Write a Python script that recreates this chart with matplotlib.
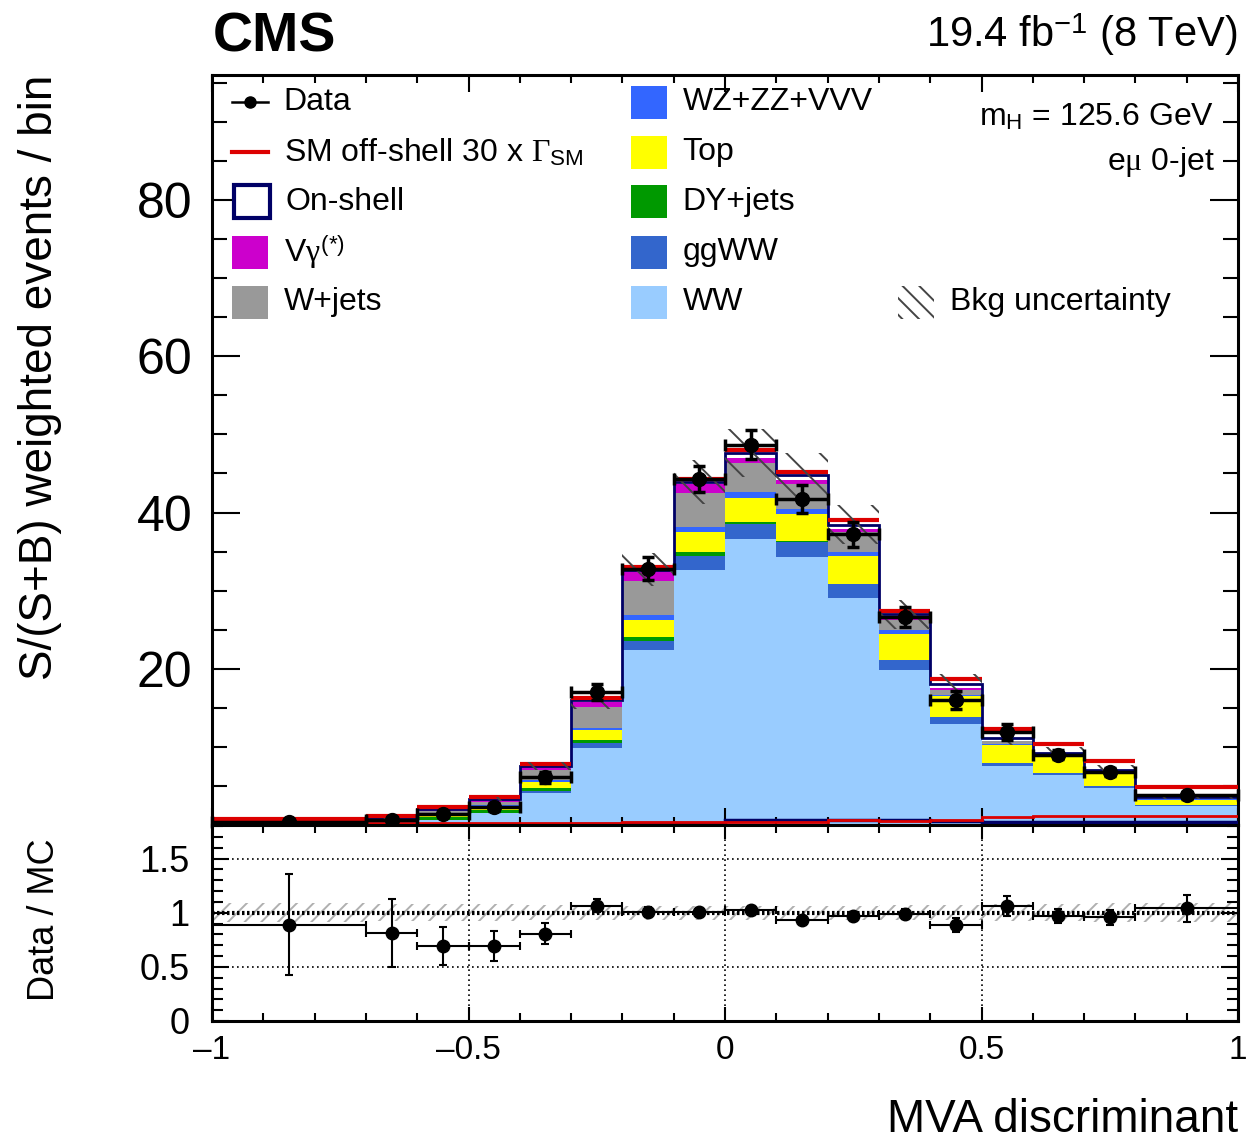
import numpy as np
import matplotlib
matplotlib.use("Agg")
from matplotlib import pyplot as plt
from matplotlib.patches import Rectangle
from matplotlib.ticker import MultipleLocator, FuncFormatter

# === fonts: Helvetica-like text, Symbol-like greek ===
plt.rcParams["font.family"] = ["Liberation Sans", "DejaVu Sans"]
plt.rcParams["mathtext.fontset"] = "custom"
plt.rcParams["mathtext.rm"] = "Liberation Serif"
plt.rcParams["mathtext.it"] = "Liberation Serif"
plt.rcParams["mathtext.sf"] = "Liberation Sans"
plt.rcParams["hatch.linewidth"] = 1.4

# === binning of the MVA discriminant ===
edges = np.array([-1.0, -0.7, -0.6, -0.5, -0.4, -0.3, -0.2, -0.1, 0.0,
                  0.1, 0.2, 0.3, 0.4, 0.5, 0.6, 0.7, 0.8, 1.0])

# === S/(S+B) weighted yields per bin ===
ww = [0.25, 0.30, 0.60, 1.50, 4.10, 9.9, 22.4, 32.7, 36.6, 34.3, 29.0, 19.8, 12.9, 7.5, 6.4, 4.7, 2.4]
ggww = [0.02, 0.03, 0.05, 0.10, 0.20, 0.6, 1.2, 1.7, 1.9, 1.9, 1.8, 1.3, 0.9, 0.45, 0.3, 0.3, 0.15]
dy = [0.05, 0.10, 0.35, 0.35, 0.40, 0.4, 0.5, 0.5, 0.3, 0.2, 0.1, 0.05, 0.05, 0.03, 0.02, 0.02, 0.0]
top = [0.03, 0.05, 0.30, 0.50, 0.80, 1.2, 2.2, 2.6, 3.0, 3.4, 3.5, 3.35, 2.65, 2.25, 1.95, 1.65, 0.7]
wz = [0.01, 0.02, 0.05, 0.05, 0.20, 0.3, 0.6, 0.7, 0.8, 0.7, 0.5, 0.4, 0.2, 0.12, 0.05, 0.03, 0.02]
wjets = [0.05, 0.15, 0.40, 0.50, 1.30, 2.7, 4.3, 4.3, 3.7, 3.1, 2.6, 1.3, 0.6, 0.35, 0.05, 0.0, 0.03]
vgamma = [0.04, 0.20, 0.25, 0.30, 0.50, 0.7, 1.3, 1.1, 0.7, 0.55, 0.35, 0.15, 0.2, 0.1, 0.03, 0.0, 0.0]
onshell = [0.0, 0.01, 0.02, 0.03, 0.05, 0.15, 0.2, 0.3, 0.6, 0.6, 0.6, 0.6, 0.55, 0.4, 0.45, 0.4, 0.35]
offshell = [0.3, 0.3, 0.3, 0.3, 0.3, 0.3, 0.35, 0.35, 0.4, 0.4, 0.6, 0.5, 0.6, 1.05, 1.1, 1.15, 1.2]
bkg_rel_unc = [0.09, 0.08, 0.08, 0.08, 0.07, 0.07, 0.065, 0.065, 0.065, 0.065, 0.065, 0.07, 0.07, 0.08, 0.08, 0.09, 0.09]

data = [0.40, 0.70, 1.40, 2.30, 6.10, 17.0, 32.8, 44.3, 48.7, 41.7, 37.2, 26.6, 16.0, 11.9, 9.0, 6.8, 3.8]
data_err = [0.21, 0.27, 0.36, 0.46, 0.75, 1.0, 1.5, 1.7, 1.8, 1.8, 1.6, 1.3, 1.1, 1.0, 0.6, 0.5, 0.45]

# stacking order, bottom to top
stack = [
    ("WW", ww, "#99ccff"),
    ("ggWW", ggww, "#3366cc"),
    ("DY+jets", dy, "#009900"),
    ("Top", top, "#ffff00"),
    ("WZ+ZZ+VVV", wz, "#3366ff"),
    ("W+jets", wjets, "#999999"),
    (r"V$\gamma^{\mathsf{(*)}}$", vgamma, "#cc00cc"),
]
NAVY = "#000066"
RED = "#dd0000"

centers = 0.5 * (edges[1:] + edges[:-1])
halfw = 0.5 * np.diff(edges)
data = np.array(data)
data_err = np.array(data_err)

fig = plt.figure(figsize=(12.48, 11.4), dpi=100)
ax = fig.add_axes([0.1699, 0.2763, 0.8221, 0.6579])
rax = fig.add_axes([0.1699, 0.1044, 0.8221, 0.1719], sharex=ax)

# === stacked backgrounds ===
base = np.zeros(len(centers))
for name, vals, color in stack:
    vals = np.array(vals)
    ax.stairs(base + vals, edges, baseline=base, fill=True, color=color, lw=0, zorder=1)
    base = base + vals
bkg = base.copy()
mc = bkg + np.array(onshell)
total = mc + np.array(offshell)

# on-shell (hollow) and 30 x Gamma off-shell on top of the stack
ax.stairs(mc, edges, baseline=bkg, fill=True, color="white", lw=0, zorder=1)
ax.stairs(mc, edges, baseline=None, color=NAVY, lw=2.0, zorder=2)
ax.hlines(total, edges[:-1], edges[1:], color=RED, lw=3.0, zorder=3)

# signals alone
ax.stairs(onshell, edges, baseline=None, color=NAVY, lw=2.5, zorder=4)
ax.stairs(offshell, edges, baseline=None, color=RED, lw=2.0, zorder=4)

# background uncertainty
unc = mc * np.array(bkg_rel_unc)
ax.bar(edges[:-1], 2 * unc, width=np.diff(edges), bottom=mc - unc, align="edge",
       fill=False, hatch="\\", edgecolor="#444444", lw=0, zorder=5)

# data
ax.errorbar(centers, data, xerr=halfw, yerr=data_err, fmt="o", color="black",
            ms=10, elinewidth=2.5, capsize=4, capthick=2.5, zorder=6, clip_on=False)

# === ratio ===
ratio = data / mc
ratio_err = data_err / mc
rel = np.array(bkg_rel_unc)
rax.bar(edges[:-1], 2 * rel, width=np.diff(edges), bottom=1 - rel, align="edge",
        fill=False, hatch="//", edgecolor="#b0b0b0", lw=0, zorder=1)
rax.axhline(1.0, color="black", lw=3, ls=(0, (0.6, 0.6)), zorder=2)
for yv in (0.5, 1.5):
    rax.axhline(yv, color="black", lw=1.2, ls=(0, (1, 2)), zorder=2)
for xv in (-0.5, 0.0, 0.5):
    rax.axvline(xv, color="black", lw=1.2, ls=(0, (1, 2)), zorder=2)
rax.errorbar(centers, ratio, xerr=halfw, yerr=ratio_err, fmt="o", color="black",
             ms=9, elinewidth=1.5, capsize=3, capthick=1.5, zorder=3)

# === axes cosmetics ===
ax.set_xlim(-1, 1)
ax.set_ylim(0, 96)
rax.set_ylim(0, 1.81)
ax.set_yticks([20, 40, 60, 80])
ax.yaxis.set_minor_locator(MultipleLocator(5))
ax.xaxis.set_major_locator(MultipleLocator(0.5))
ax.xaxis.set_minor_locator(MultipleLocator(0.1))
rax.set_yticks([0, 0.5, 1, 1.5])
rax.yaxis.set_minor_locator(MultipleLocator(0.1))
rax.yaxis.set_major_formatter(FuncFormatter(lambda v, p: f"{v:g}"))
rax.xaxis.set_major_formatter(FuncFormatter(lambda v, p: f"{v:g}".replace("-", "\u2013")))

for a in (ax, rax):
    for s in a.spines.values():
        s.set_linewidth(2.2)
    a.tick_params(which="both", direction="in", top=True, right=True, width=1.5)

ax.tick_params(axis="x", which="major", length=12, labelbottom=False)
ax.tick_params(axis="x", which="minor", length=6)
ax.tick_params(axis="y", which="major", length=20, labelsize=36, pad=14)
ax.tick_params(axis="y", which="minor", length=11)
rax.tick_params(axis="x", which="major", length=10, labelsize=24, pad=10)
rax.tick_params(axis="x", which="minor", length=6)
rax.tick_params(axis="y", which="major", length=12, labelsize=26, pad=16)
rax.tick_params(axis="y", which="minor", length=8)

fig.text(0.032, 1 - 75 / 1140, "S/(S+B) weighted events / bin", rotation=90,
         ha="center", va="top", fontsize=33)
fig.text(0.036, 1 - 920 / 1140, "Data / MC", rotation=90, ha="center", va="center", fontsize=26)
fig.text(0.992, 1 - 1132 / 1140, "MVA discriminant", ha="right", va="baseline", fontsize=33)
fig.text(0.1707, 1 - 52 / 1140, "CMS", ha="left", va="baseline", fontsize=40, fontweight="bold")
fig.text(0.992, 1 - 47 / 1140, r"19.4 fb$^{\mathsf{-1}}$ (8 TeV)", ha="right", va="baseline", fontsize=30)

# === legend ===
LFS = 23
bw, bh = 0.035, 0.044
rows = [0.964, 0.897, 0.831, 0.764, 0.697]


def legend_box(x, y, label, face, edge=None, lw=0.0, hatch=None):
    ax.add_patch(Rectangle((x, y - bh / 2), bw, bh, transform=ax.transAxes,
                           facecolor=face, edgecolor=edge if edge else face,
                           lw=lw, hatch=hatch, clip_on=False, zorder=10))
    ax.text(x + bw + 0.0155, y, label, transform=ax.transAxes, va="center",
            fontsize=LFS, zorder=10)


x1, x2 = 0.0195, 0.408
ax.plot([x1, x1 + bw], [rows[0]] * 2, color="black", lw=1.8, transform=ax.transAxes, zorder=10)
ax.plot([x1 + bw / 2], [rows[0]], "o", color="black", ms=8, transform=ax.transAxes, zorder=10)
ax.text(x1 + bw + 0.0155, rows[0], "Data", transform=ax.transAxes, va="center", fontsize=LFS)
ax.plot([x1, x1 + bw], [rows[1]] * 2, color=RED, lw=3, transform=ax.transAxes, zorder=10)
ax.text(x1 + bw + 0.0155, rows[1], r"SM off-shell 30 x $\Gamma_{\mathsf{SM}}$",
        transform=ax.transAxes, va="center", fontsize=LFS)
legend_box(x1 + 0.002, rows[2], "On-shell", "white", edge=NAVY, lw=3)
legend_box(x1, rows[3], stack[6][0], stack[6][2])
legend_box(x1, rows[4], stack[5][0], stack[5][2])
for r, idx in zip(rows, [4, 3, 2, 1, 0]):
    legend_box(x2, r, stack[idx][0], stack[idx][2])
legend_box(0.669, rows[4], "Bkg uncertainty", "none", edge="#444444", lw=0, hatch="\\\\")

ax.text(0.977, 0.933, r"m$_{\mathsf{H}}$ = 125.6 GeV", transform=ax.transAxes,
        ha="right", va="baseline", fontsize=LFS)
ax.text(0.977, 0.873, r"e$\mu$ 0-jet", transform=ax.transAxes,
        ha="right", va="baseline", fontsize=LFS)

fig.savefig("out.png", dpi=100)
